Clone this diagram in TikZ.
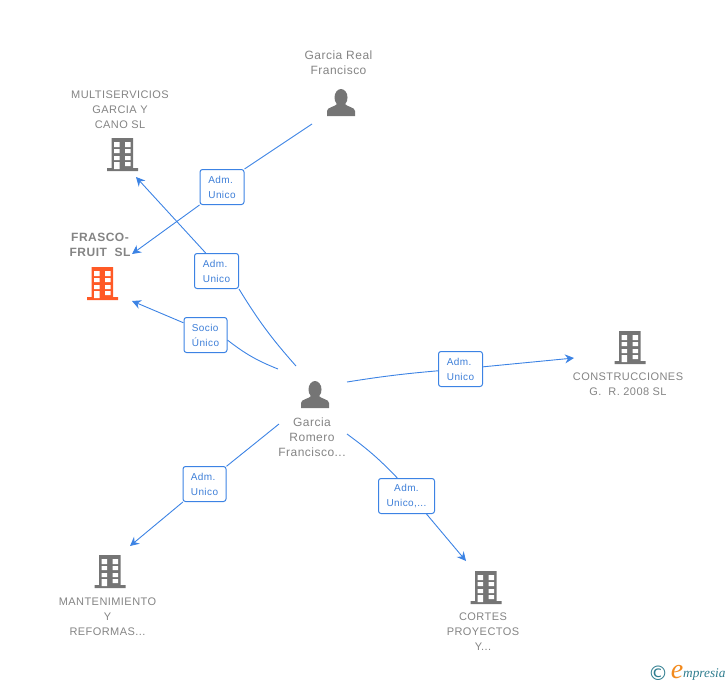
\documentclass[tikz,border=0pt]{standalone}
\usepackage{fontspec}
\setmainfont[LetterSpace=4]{Liberation Sans}
\newfontfamily\logofont{Liberation Serif}
\newfontfamily\copyfont{DejaVu Sans}
\usetikzlibrary{arrows.meta}
\definecolor{linkblue}{HTML}{3C83E4}
\definecolor{labelblue}{HTML}{3E7FD8}
\definecolor{icongrey}{HTML}{757575}
\definecolor{textgrey}{HTML}{848484}
\definecolor{firmorange}{HTML}{FF5A26}
\definecolor{logoteal}{HTML}{2F7D8F}
\definecolor{logoorange}{HTML}{F28A1E}
\tikzset{
  namelab/.style={align=center,text=textgrey,font=\fontsize{11}{15}\selectfont,inner sep=0pt},
  perslab/.style={namelab,font=\fontsize{12}{15}\selectfont},
  rolelab/.style={draw=linkblue,fill=white,rounded corners=2.5pt,line width=1pt,text=labelblue,
    align=left,font=\fontsize{10}{15}\selectfont,minimum height=35pt,inner sep=0pt},
  link/.style={draw=linkblue,line width=0.9pt},
  linkto/.style={link,-{Stealth[length=9pt,width=9pt,inset=3pt]}}
}
\newcommand{\bldg}[3]{
  \fill[#3,shift={(#1,#2)}] (-10.5,-16) rectangle (11,15) (-15,14) rectangle (16,17);
  \fill[white,shift={(#1,#2)}] (-8,-12) rectangle (-2.5,-7) (3,-12) rectangle (8.5,-7)
    (-8,-5) rectangle (-2.5,-1) (3,-5) rectangle (8.5,-1)
    (-8,2) rectangle (-2.5,6) (3,2) rectangle (8.5,6)
    (-8,8) rectangle (-2.5,15) (3,8) rectangle (8.5,12);
}
\newcommand{\prsn}[2]{
  \fill[icongrey,shift={(#1,#2)}] (0,-5.5) ellipse (6.5 and 8.5)
    (-14,13) -- (-14,8) .. controls (-14,4) and (-6,4) .. (-4,1) -- (4,1)
    .. controls (6,4) and (14,4) .. (14,8) -- (14,13) -- cycle;
}
\begin{document}
\begin{tikzpicture}[x=1pt,y=-1pt]
        \useasboundingbox (0,0) rectangle (728,685);

        % icons
        \bldg{122}{154}{icongrey}
        \bldg{102}{283}{firmorange}
        \bldg{629.5}{347}{icongrey}
        \bldg{109.5}{571}{icongrey}
        \bldg{485.5}{587}{icongrey}
        \prsn{341}{103}
        \prsn{315}{395}

        % names
        \node[perslab] (real) at (338.5,62.5) {Garcia Real\\Francisco};
        \node[namelab] (multi) at (120,110) {MULTISERVICIOS\\GARCIA Y\\CANO SL};
        \node[namelab,font=\fontsize{12}{15}\selectfont\bfseries] (frasco) at (100,244.5) {FRASCO-\\FRUIT~~SL};
        \node[namelab] (constr) at (628,384.5) {CONSTRUCCIONES\\G.~~R. 2008 SL};
        \node[perslab] (romero) at (312,437) {Garcia\\Romero\\Francisco...};
        \node[namelab] (mant) at (107.5,617) {MANTENIMIENTO\\Y\\REFORMAS...};
        \node[namelab] (cortes) at (483,632) {CORTES\\PROYECTOS\\Y...};

        % free ends
        \coordinate (realout) at (312,124);
        \coordinate (frascoin) at (132,254);
        \coordinate (romout) at (296,366);
        \coordinate (multiin) at (136,177);
        \coordinate (socout) at (278,369);
        \coordinate (socin) at (132,301);
        \coordinate (conout) at (347,382);
        \coordinate (conin) at (574,358);
        \coordinate (manout) at (279,424);
        \coordinate (manin) at (130,546);
        \coordinate (corout) at (347,434);
        \coordinate (corin) at (466,561);

        % role labels
        \node[rolelab,minimum width=44pt] (admone) at (222,187) {Adm.\\Unico};
        \node[rolelab,minimum width=44pt] (admtwo) at (216.5,271) {Adm.\\Unico};
        \node[rolelab,minimum width=43pt] (socio) at (205.5,335) {Socio\\Único};
        \node[rolelab,minimum width=44pt] (admcon) at (460.5,369) {Adm.\\Unico};
        \node[rolelab,minimum width=43pt] (admman) at (204.5,484) {Adm.\\Unico};
        \node[rolelab,minimum width=56pt,align=center] (admcor) at (406.5,496) {Adm.\\Unico,...};

        % links
        \draw[link] (realout) -- (admone.north east);
        \draw[linkto] (admone.south west) -- (frascoin);
        \draw[link] (romout) to[bend left=5] (admtwo.south east);
        \draw[linkto] (admtwo.121) -- (multiin);
        \draw[link] (socout) to[bend left=8] (socio.-13);
        \draw[linkto] (socio.151) -- (socin);
        \draw[link] (conout) to[bend left=2] (admcon);
        \draw[linkto] (admcon) -- (conin);
        \draw[link] (manout) -- (admman);
        \draw[linkto] (admman) -- (manin);
        \draw[link] (corout) to[bend left=5] (admcor.117);
        \draw[linkto] (admcor.-42) -- (corin);

        % logo
        \node[inner sep=0pt,text=logoteal,font=\copyfont\fontsize{20}{20}\selectfont] (copy) at (658,673.5) {\textcopyright};
        \node[inner sep=0pt,text=logoorange,font=\logofont\itshape\fontsize{28}{28}\selectfont] (logoe) at (677,672) {e};
        \node[inner sep=0pt,text=logoteal,anchor=west,font=\logofont\itshape\fontsize{13.3}{14}\selectfont] (logotxt) at (683,675) {mpresia};
\end{tikzpicture}
\end{document}
